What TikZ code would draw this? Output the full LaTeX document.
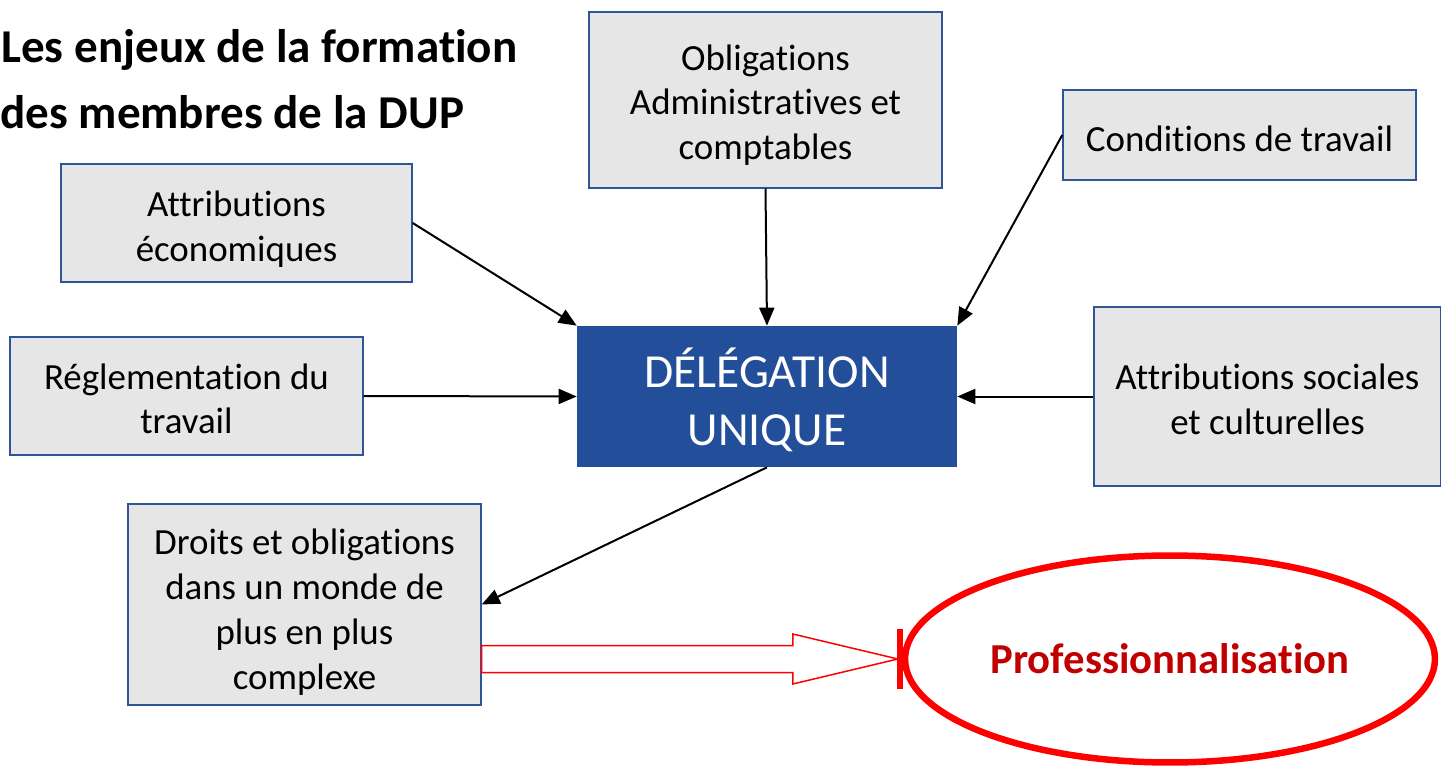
\documentclass[tikz,border=0pt]{standalone}
\usepackage{fontspec}
\setmainfont[Ligatures=NoCommon]{Carlito}
\usetikzlibrary{arrows.meta,shapes.geometric,calc}

\definecolor{boxblue}{RGB}{47,85,151}
\definecolor{boxgray}{RGB}{231,230,230}
\definecolor{dupblue}{RGB}{34,78,154}
\definecolor{prored}{RGB}{192,0,0}

% centred lines, lowered a little inside their box
\newcommand{\bloc}[2][0.1cm]{\raisebox{-#1}[\height][\depth]{\begin{tabular}{@{}c@{}}#2\end{tabular}}}

\begin{document}
\begin{tikzpicture}[x=0.02cm,y=-0.02cm,>={Triangle[length=0.36cm,width=0.3cm]}]
    % Box styles
    \tikzstyle{enjeu}=[draw=boxblue,fill=boxgray,line width=0.03cm,
        inner sep=0pt,font=\fontsize{21}{25.6}\selectfont]
    \tikzstyle{titre}=[anchor=west,inner sep=0pt,font=\bfseries\fontsize{26.8}{30}\selectfont]

    \useasboundingbox (0,0) rectangle (1441,767);

    % Title
    \node[titre] (titre1) at (1,50)  {Les enjeux de la formation};
    \node[titre] (titre2) at (0,112) {des membres de la DUP};

    % Nodes, positions, and labels
    \node[enjeu,minimum width=7.06cm,minimum height=3.52cm] (oblig)  at (765.5,100)  {\bloc[0.12cm]{Obligations\\Administratives et\\comptables}};
    \node[enjeu,minimum width=7.06cm,minimum height=1.8cm]  (cond)   at (1239.5,135) {\bloc[0.16cm]{Conditions de travail}};
    \node[enjeu,minimum width=7.02cm,minimum height=2.36cm] (eco)    at (236.5,223)  {\bloc[0.14cm]{Attributions\\économiques}};
    \node[enjeu,minimum width=7.06cm,minimum height=2.36cm] (regl)   at (186.5,396)  {\bloc[0.13cm]{Réglementation du\\travail}};
    \node[enjeu,minimum width=6.94cm,minimum height=3.58cm] (soc)    at (1267.5,396.5) {\bloc[0.13cm]{Attributions sociales\\et culturelles}};
    \node[enjeu,minimum width=7.06cm,minimum height=4.02cm] (droits) at (304.5,604.5) {\bloc[0.17cm]{Droits et obligations\\dans un monde de\\plus en plus\\complexe}};

    \node[fill=dupblue,text=white,inner sep=0pt,minimum width=7.6cm,minimum height=2.82cm,
          font=\fontsize{27}{33}\selectfont] (deleg) at (767,396.5) {\bloc[0.16cm]{DÉLÉGATION\\UNIQUE}};

    \node[ellipse,draw=red,line width=0.13cm,inner sep=0pt,minimum width=10.6cm,minimum height=4.14cm,
          text=prored,font=\bfseries\fontsize{24.3}{28}\selectfont] (prof) at (1170,659) {Professionnalisation};

    % Edges
    \path[->,line width=0.04cm]
    (eco.east)    edge (deleg.north west)
    (oblig.south) edge (deleg.north)
    (cond.west)   edge (deleg.north east)
    (regl.east)   edge (deleg.west)
    (soc.west)    edge (deleg.east)
    (deleg.south) edge (droits.east);

    % Hollow arrow towards the ellipse
    \coordinate (a0) at (droits.east |- prof.west);
    \coordinate (t)  at ($(prof.west)+(-4,0)$);
    \draw[red,line width=0.03cm,fill=white]
        ($(a0)+(0,-13.5)$) -- ($(t)+(-105,-13.5)$) -- ($(t)+(-105,-25)$) -- (t)
        -- ($(t)+(-105,25)$) -- ($(t)+(-105,13.5)$) -- ($(a0)+(0,13.5)$) -- cycle;
    \draw[red,line width=0.12cm] ($(prof.west)+(-2,-30)$) -- ($(prof.west)+(-2,30)$);

\end{tikzpicture}
\end{document}
